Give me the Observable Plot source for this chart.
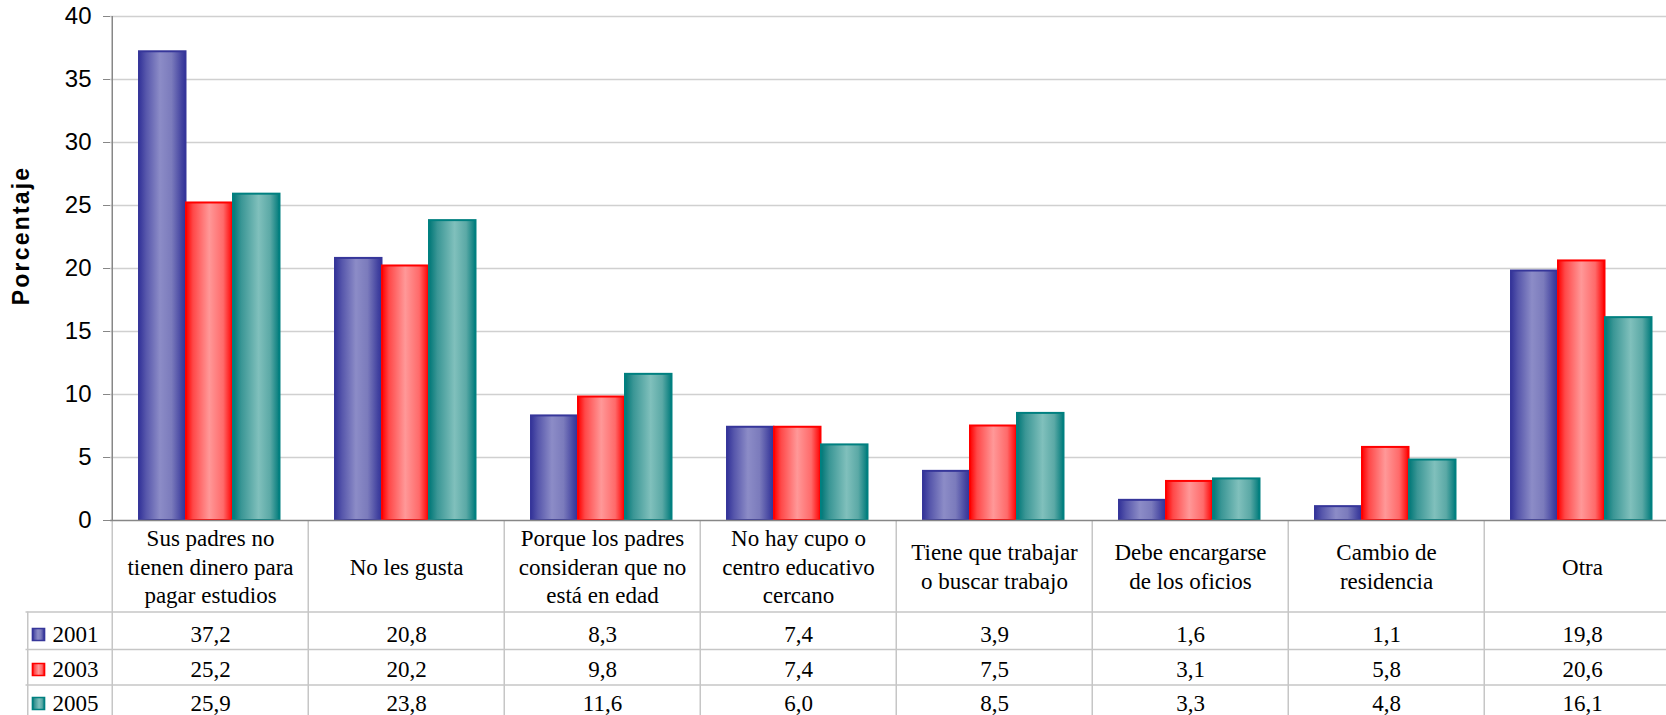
<!DOCTYPE html>
<html>
<head>
<meta charset="utf-8">
<script src="https://cdn.jsdelivr.net/npm/d3@7"></script>
<script src="https://cdn.jsdelivr.net/npm/@observablehq/plot@0.6"></script>
<style>
html, body { margin: 0; padding: 0; background: #fff; overflow: hidden; }
#chart svg { max-width: none; display: block; }
#chart g[font-weight="bold"] text { letter-spacing: 2.2px; }
</style>
</head>
<body>
<svg width="0" height="0" style="position:absolute">
  <defs>
    <linearGradient id="g2001" x1="0" x2="1" y1="0" y2="0">
      <stop offset="0" stop-color="#333399"/>
      <stop offset="0.15" stop-color="#5656ab"/>
      <stop offset="0.45" stop-color="#8c8cc7"/>
      <stop offset="0.7" stop-color="#7b7bbc"/>
      <stop offset="0.92" stop-color="#4343a0"/>
      <stop offset="1" stop-color="#333399"/>
    </linearGradient>
    <linearGradient id="g2003" x1="0" x2="1" y1="0" y2="0">
      <stop offset="0" stop-color="#ff0000"/>
      <stop offset="0.15" stop-color="#ff4848"/>
      <stop offset="0.5" stop-color="#ff9898"/>
      <stop offset="0.8" stop-color="#ff6a6a"/>
      <stop offset="1" stop-color="#ff0000"/>
    </linearGradient>
    <linearGradient id="g2005" x1="0" x2="1" y1="0" y2="0">
      <stop offset="0" stop-color="#007777"/>
      <stop offset="0.18" stop-color="#3a9695"/>
      <stop offset="0.55" stop-color="#80c0bc"/>
      <stop offset="0.8" stop-color="#5ba9a6"/>
      <stop offset="1" stop-color="#007b7b"/>
    </linearGradient>
  </defs>
</svg>
<div id="chart"></div>
<script>
const categories = [
  "Sus padres no\ntienen dinero para\npagar estudios",
  "No les gusta",
  "Porque los padres\nconsideran que no\nestá en edad",
  "No hay cupo o\ncentro educativo\ncercano",
  "Tiene que trabajar\no buscar trabajo",
  "Debe encargarse\nde los oficios",
  "Cambio de\nresidencia",
  "Otra"
];
const years = ["2001", "2003", "2005"];
const values2001 = [37.2, 20.8, 8.3, 7.4, 3.9, 1.6, 1.1, 19.8];
const values2003 = [25.2, 20.2, 9.8, 7.4, 7.5, 3.1, 5.8, 20.6];
const values2005 = [25.9, 23.8, 11.6, 6.0, 8.5, 3.3, 4.8, 16.1];
const yTicks = [0, 5, 10, 15, 20, 25, 30, 35, 40];
const yLabel = "Porcentaje";

const seriesValues = [values2001, values2003, values2005];
const fills = ["url(#g2001)", "url(#g2003)", "url(#g2005)"];
const strokes = ["#36369a", "#ff0000", "#008080"];

const W = 1682, H = 715, ML = 110, MR = 0, MT = 16, MB = 195;
const step = (W - ML - MR) / categories.length;
const barW = 47, gapL = 27;
const fmt = v => v.toFixed(1).replace(".", ",");
const serif = "Liberation Serif, Times New Roman, serif";
const sans = "Liberation Sans, Arial, sans-serif";
const gridColor = "#d0d0d0";
const tableColor = "#c6c6c6";
const axisColor = "#878787";
const rowDy = [114, 149, 183];
const rowLineDy = [91.5, 129, 164.5];

const marks = [];
// gridlines
marks.push(Plot.ruleY(yTicks.filter(t => t > 0), {stroke: gridColor, strokeWidth: 1.5}));
// grouped bars
seriesValues.forEach((vals, k) => {
  marks.push(Plot.barY(categories, {
    x: d => d,
    y: (d, i) => vals[i],
    fill: fills[k],
    stroke: strokes[k],
    strokeWidth: 2,
    insetLeft: gapL + barW * k,
    insetRight: step - gapL - barW * (k + 1)
  }));
});
// data table grid
marks.push(Plot.ruleX(categories, {x: d => d, dx: -step / 2, insetTop: 504, insetBottom: -MB, stroke: tableColor, strokeWidth: 1.5}));
marks.push(Plot.ruleX([categories[0]], {x: d => d, dx: -step / 2 - 84.5, insetTop: 504 + rowLineDy[0], insetBottom: -MB, stroke: tableColor, strokeWidth: 1.5}));
rowLineDy.forEach(dy => {
  marks.push(Plot.ruleY([0], {dy, insetLeft: -84.5, stroke: tableColor, strokeWidth: 1.5}));
});
// axis lines
marks.push(Plot.ruleX([categories[0]], {x: d => d, dx: -step / 2, stroke: axisColor, strokeWidth: 1.5}));
marks.push(Plot.ruleY([0], {stroke: axisColor, strokeWidth: 1.5}));
// y axis
marks.push(Plot.axisY(yTicks, {tickSize: 7, tickPadding: 12, fontSize: 24, fontFamily: sans, stroke: axisColor, fill: "#000", label: null}));
marks.push(Plot.text([yLabel], {frameAnchor: "left", dx: -89, dy: -33, rotate: -90, textAnchor: "middle", lineAnchor: "middle", fontSize: 23, fontWeight: "bold", fontFamily: sans, fill: "#000"}));
// table: category labels
marks.push(Plot.text(categories, {x: d => d, text: d => d, frameAnchor: "bottom", dy: 45, textAnchor: "middle", lineAnchor: "middle", fontSize: 23, lineHeight: 1.23, fontFamily: serif, fill: "#000"}));
// table: values rows and legend keys
seriesValues.forEach((vals, k) => {
  marks.push(Plot.text(categories, {x: d => d, text: (d, i) => fmt(vals[i]), frameAnchor: "bottom", dy: rowDy[k], textAnchor: "middle", lineAnchor: "middle", fontSize: 23, fontFamily: serif, fill: "#000"}));
  marks.push(Plot.text([years[k]], {frameAnchor: "bottom-left", dx: -58, dy: rowDy[k], textAnchor: "start", lineAnchor: "middle", fontSize: 23, fontFamily: serif, fill: "#000"}));
  marks.push(Plot.dot([years[k]], {frameAnchor: "bottom-left", dx: -72, dy: rowDy[k], symbol: "square", r: 6.8, fill: fills[k], stroke: strokes[k], strokeWidth: 1.6}));
});

const chart = Plot.plot({
  width: W, height: H,
  marginLeft: ML, marginRight: MR, marginTop: MT, marginBottom: MB,
  style: {color: "#000", background: "#fff"},
  x: {type: "band", domain: categories, padding: 0, axis: null},
  y: {domain: [0, 40], axis: null},
  marks
});
document.getElementById("chart").appendChild(chart);
</script>
</body>
</html>
